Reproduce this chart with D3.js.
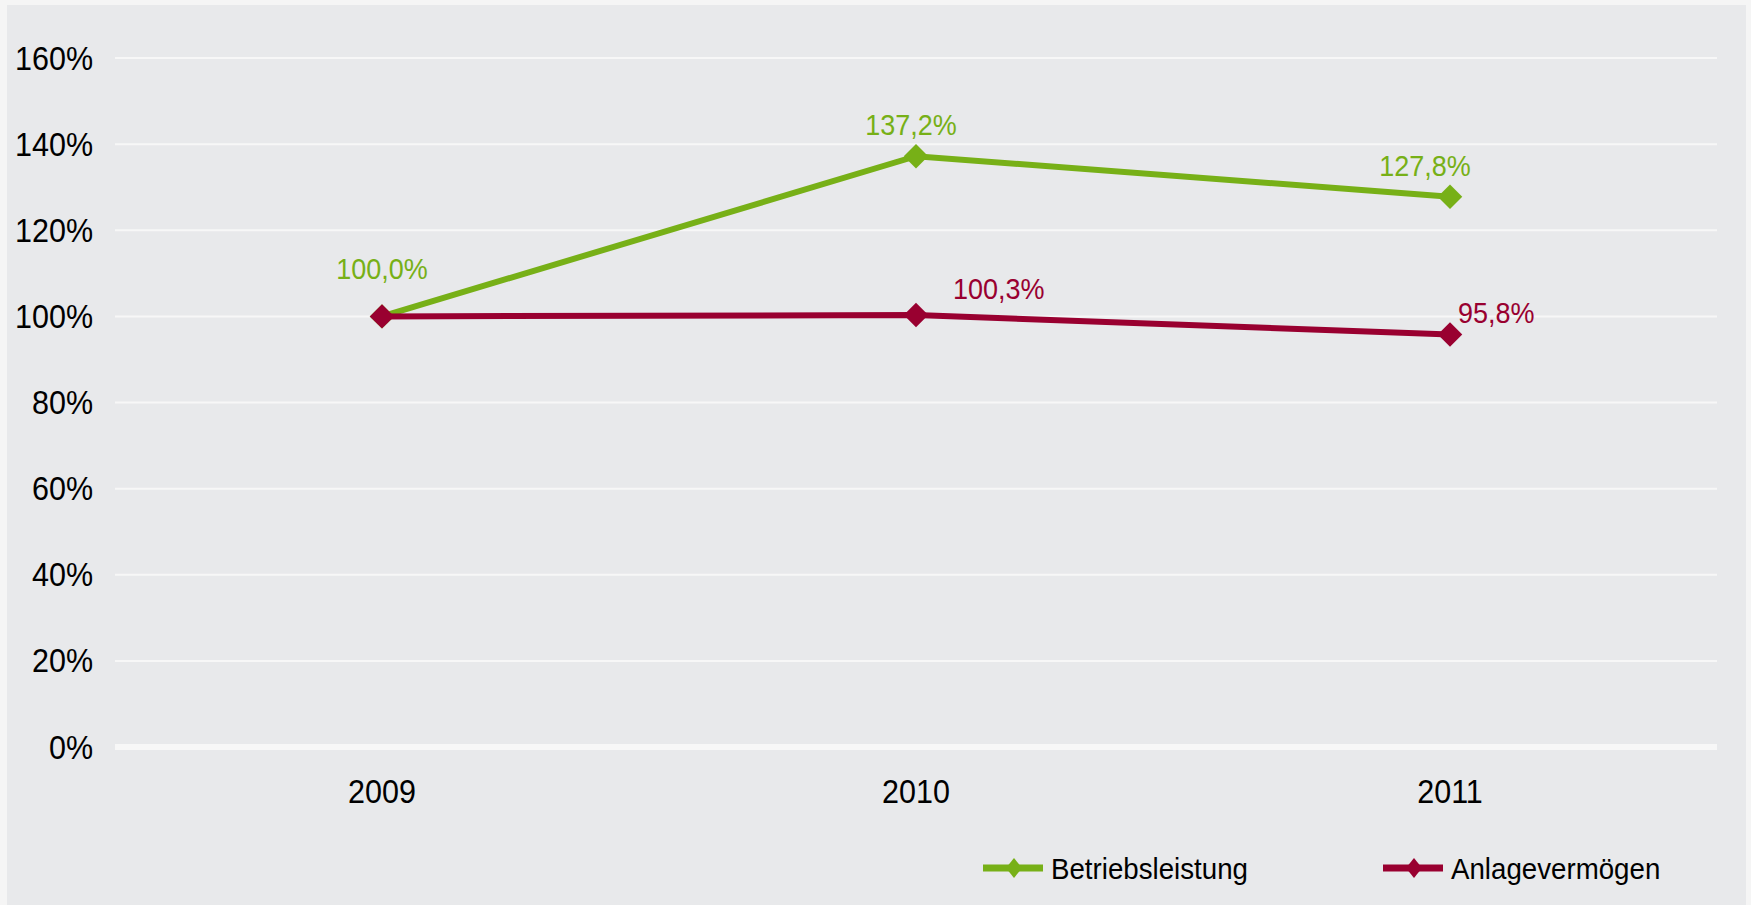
<!DOCTYPE html>
<html lang="de">
<head>
<meta charset="UTF-8">
<title>Betriebsleistung / Anlagevermögen</title>
<script src="https://cdn.jsdelivr.net/npm/d3@7"></script>
<style>
  html, body { margin: 0; padding: 0; background: #f5f5f5; }
  text { font-family: "Liberation Sans", Arial, sans-serif; }
</style>
</head>
<body>
<script>
// data
var years = ["2009", "2010", "2011"];
var betriebsleistung = [100.0, 137.2, 127.8];
var anlagevermoegen = [100.0, 100.3, 95.8];
var yTicks = [0, 20, 40, 60, 80, 100, 120, 140, 160];
var seriesNames = ["Betriebsleistung", "Anlagevermögen"];

// label placement per point (null = no label)
var greenLabelPos = [[0, -37, "middle"], [-5, -21, "middle"], [-25, -21, "middle"]];
var redLabelPos = [null, [37, -16, "start"], [8, -11, "start"]];

var green = "#77b017";
var red = "#990030";

// text in the original is a bit taller than wide
var stretch = 1.08;

drawChart();

function place(x, y) {
  return "translate(" + x + "," + y + ") scale(1," + stretch + ")";
}

function drawChart() {
  var width = 1751, height = 905;

  var svg = d3.select("body").append("svg")
    .attr("width", width)
    .attr("height", height)
    .style("display", "block");

  svg.append("rect")
    .attr("x", 7).attr("y", 5)
    .attr("width", 1739).attr("height", 900)
    .attr("fill", "#e8e9eb");

  var x = d3.scalePoint()
    .domain(years)
    .range([115, 1717])
    .padding(0.5);

  var y = d3.scaleLinear()
    .domain([0, 160])
    .range([747, 58]);

  // gridlines
  svg.append("g").selectAll("line")
    .data(yTicks)
    .join("line")
    .attr("x1", 115).attr("x2", 1717)
    .attr("y1", d => y(d)).attr("y2", d => y(d))
    .attr("stroke", "#f7f7f7")
    .attr("stroke-width", d => d === 0 ? 6 : 2);

  // y tick labels
  svg.append("g").selectAll("text")
    .data(yTicks)
    .join("text")
    .attr("transform", d => place(93, y(d) + 11.5))
    .attr("text-anchor", "end")
    .attr("font-size", 30.5)
    .attr("fill", "#000")
    .text(d => d + "%");

  // x labels
  svg.append("g").selectAll("text")
    .data(years)
    .join("text")
    .attr("transform", d => place(x(d), 803))
    .attr("text-anchor", "middle")
    .attr("font-size", 30.5)
    .attr("fill", "#000")
    .text(d => d);

  var line = d3.line()
    .x((d, i) => x(years[i]))
    .y(d => y(d));

  var diamond = d3.symbol().type(d3.symbolSquare).size(300);

  function drawSeries(values, color) {
    var g = svg.append("g");
    g.append("path")
      .attr("d", line(values))
      .attr("fill", "none")
      .attr("stroke", color)
      .attr("stroke-width", 6);

    g.selectAll("path.marker")
      .data(values)
      .join("path")
      .attr("class", "marker")
      .attr("d", diamond)
      .attr("transform", (d, i) => "translate(" + x(years[i]) + "," + y(d) + ") rotate(45)")
      .attr("fill", color);
  }

  function drawLabels(values, color, labelPos) {
    svg.append("g").selectAll("text")
      .data(values.map((v, i) => ({v: v, i: i, p: labelPos[i]})).filter(d => d.p))
      .join("text")
      .attr("transform", d => place(x(years[d.i]) + d.p[0], y(d.v) + d.p[1]))
      .attr("text-anchor", d => d.p[2])
      .attr("font-size", 27)
      .attr("fill", color)
      .text(d => d.v.toFixed(1).replace(".", ",") + "%");
  }

  drawSeries(betriebsleistung, green);
  drawSeries(anlagevermoegen, red);
  drawLabels(betriebsleistung, green, greenLabelPos);
  drawLabels(anlagevermoegen, red, redLabelPos);

  // legend
  var legendX = [983, 1383];
  var legendColors = [green, red];
  var lg = svg.append("g").selectAll("g")
    .data(seriesNames)
    .join("g")
    .attr("transform", (d, i) => "translate(" + legendX[i] + ",868)");

  lg.append("line")
    .attr("x1", 0).attr("x2", 60)
    .attr("stroke", (d, i) => legendColors[i])
    .attr("stroke-width", 7);

  lg.append("path")
    .attr("d", d3.symbol().type(d3.symbolSquare).size(200))
    .attr("transform", "translate(31,0) scale(0.8,1) rotate(45)")
    .attr("fill", (d, i) => legendColors[i]);

  lg.append("text")
    .attr("transform", place(68, 11))
    .attr("font-size", 27.7)
    .attr("fill", "#000")
    .text(d => d);
}
</script>
</body>
</html>
